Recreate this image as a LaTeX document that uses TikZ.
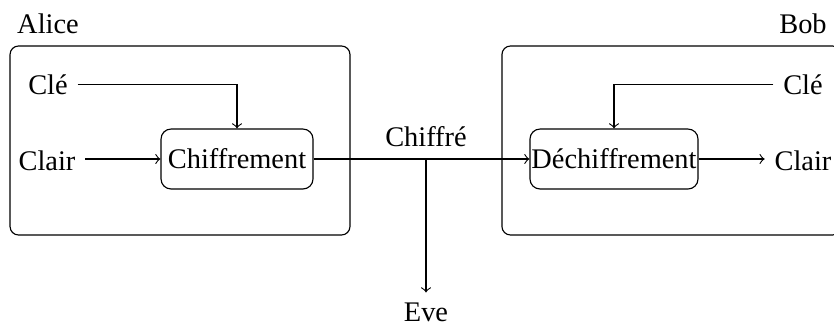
\documentclass[tikz,border=0pt]{standalone}
\usepackage{fontspec}
\setmainfont{Liberation Serif}
\begin{document}
\begin{tikzpicture}[x=0.35211pt,y=-0.35211pt,
  lbl/.style={inner sep=3.3pt, anchor=base, font=\fontsize{10}{12}\selectfont},
  proc/.style={draw, rounded corners=3.5pt, inner sep=0pt, minimum height=21.1pt, font=\fontsize{10}{12}\selectfont},
  party/.style={draw, rounded corners=3pt, inner sep=0pt, minimum height=66.55pt},
  conn/.style={line width=0.4pt}]
\useasboundingbox (0,0) rectangle (834,325);
\clip (0,0) rectangle (834,325);
% party boxes
\node[party, minimum width=119.7pt] (alicebox) at (180,140.5) {};
\node[party, minimum width=119.4pt] (bobbox) at (671.5,140.5) {};
% labels
\node[lbl] (alice) at (48,33) {Alice};
\node[lbl] (bob) at (803,33) {Bob};
\node[lbl] (cle1) at (48,94) {Clé};
\node[lbl] (clair1) at (47,170) {Clair};
\node[lbl] (cle2) at (803,94) {Clé};
\node[lbl] (clair2) at (803,170) {Clair};
% process boxes
\node[proc, minimum width=53.5pt] (chiff) at (237,159) {Chiffrement};
\node[proc, minimum width=59.15pt] (dech) at (614,159) {Déchiffrement};
% channel
\coordinate (mid) at (426,159);
\node[lbl] (chiffre) at (426,146) {Chiffré};
\node[lbl] (eve) at (426,321) {Eve};
% connectors
\draw[conn,->] (cle1.east) -| (chiff.north);
\draw[conn,->] (clair1.east |- chiff.west) -- (chiff.west);
\draw[conn,->] (chiff.east) -- (dech.west);
\draw[conn,->] (mid) -- (eve.north);
\draw[conn,->] (cle2.west) -| (dech.north);
\draw[conn,->] (dech.east) -- (dech.east -| clair2.west);
\end{tikzpicture}
\end{document}
